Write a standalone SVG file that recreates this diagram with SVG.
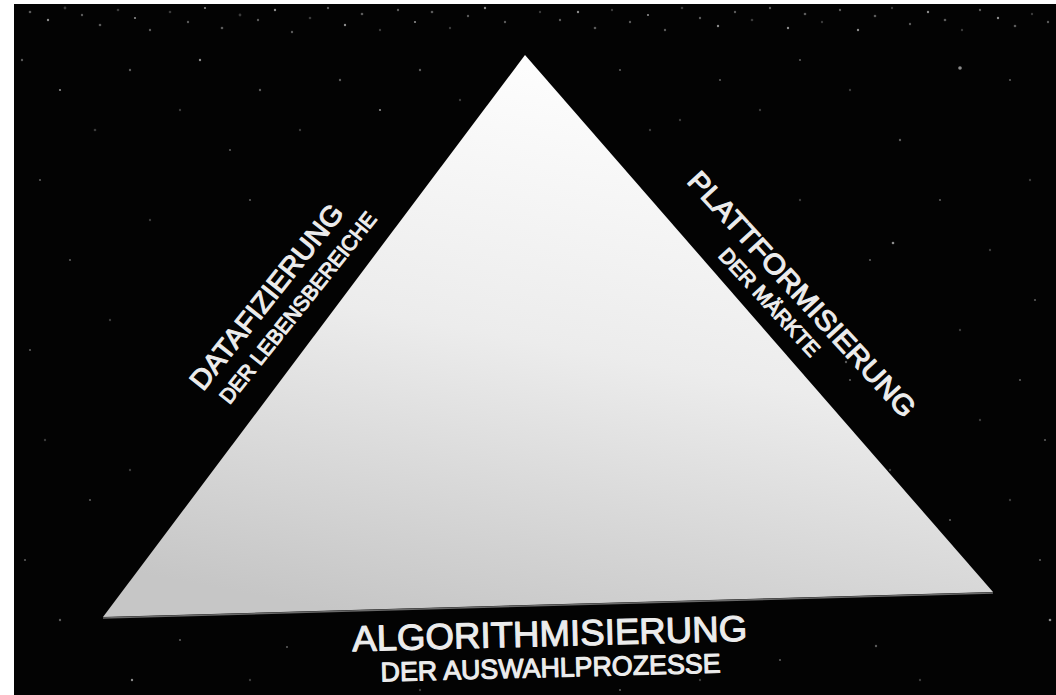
<svg xmlns="http://www.w3.org/2000/svg" width="1056" height="695" viewBox="0 0 1056 695">
<defs>
<linearGradient id="tri" x1="0.6" y1="0" x2="0.3" y2="1">
<stop offset="0" stop-color="#ffffff"/>
<stop offset="0.5" stop-color="#ececec"/>
<stop offset="1" stop-color="#c6c6c6"/>
</linearGradient>
<style>
.a{fill:#5a5a5a}
.b{fill:#8c8c8c}
.c{fill:#3a3a3a}
.t{font-family:"Liberation Sans",Arial,sans-serif;fill:#ececec;stroke:#ececec;stroke-width:1.1;stroke-linejoin:round}
</style>
</defs>
<rect x="0" y="0" width="1056" height="695" fill="#ffffff"/>
<rect x="14" y="4" width="1042" height="691" fill="#030303"/>
<g id="stars">
<circle class="a" cx="30" cy="12" r="1.3"/><circle class="b" cx="48" cy="20" r="1.2"/><circle class="c" cx="65" cy="8" r="1.4"/><circle class="a" cx="82" cy="15" r="1.2"/><circle class="a" cx="100" cy="25" r="1.3"/><circle class="c" cx="118" cy="10" r="1.3"/><circle class="b" cx="135" cy="18" r="1.1"/><circle class="a" cx="150" cy="30" r="1.2"/><circle class="c" cx="170" cy="12" r="1.3"/><circle class="a" cx="188" cy="22" r="1.2"/><circle class="b" cx="205" cy="8" r="1.1"/><circle class="a" cx="222" cy="28" r="1.3"/><circle class="c" cx="240" cy="15" r="1.4"/><circle class="a" cx="258" cy="20" r="1.2"/><circle class="b" cx="275" cy="10" r="1.2"/><circle class="a" cx="292" cy="32" r="1.2"/><circle class="c" cx="310" cy="18" r="1.3"/><circle class="a" cx="328" cy="8" r="1.2"/><circle class="b" cx="345" cy="25" r="1.2"/><circle class="a" cx="362" cy="14" r="1.3"/><circle class="c" cx="380" cy="30" r="1.2"/><circle class="a" cx="398" cy="10" r="1.2"/><circle class="b" cx="415" cy="22" r="1.1"/><circle class="a" cx="432" cy="12" r="1.3"/><circle class="c" cx="450" cy="28" r="1.2"/><circle class="a" cx="468" cy="16" r="1.2"/><circle class="b" cx="485" cy="8" r="1.2"/><circle class="a" cx="505" cy="22" r="1.2"/><circle class="c" cx="540" cy="12" r="1.2"/><circle class="a" cx="560" cy="20" r="1.2"/><circle class="b" cx="578" cy="12" r="1.2"/><circle class="a" cx="595" cy="28" r="1.3"/><circle class="c" cx="612" cy="10" r="1.2"/><circle class="a" cx="630" cy="22" r="1.2"/><circle class="b" cx="648" cy="15" r="1.1"/><circle class="a" cx="665" cy="30" r="1.2"/><circle class="c" cx="682" cy="8" r="1.3"/><circle class="a" cx="700" cy="18" r="1.2"/><circle class="b" cx="718" cy="26" r="1.2"/><circle class="a" cx="735" cy="12" r="1.2"/><circle class="c" cx="752" cy="20" r="1.3"/><circle class="a" cx="770" cy="8" r="1.2"/><circle class="b" cx="788" cy="28" r="1.2"/><circle class="a" cx="805" cy="14" r="1.3"/><circle class="c" cx="822" cy="22" r="1.2"/><circle class="a" cx="840" cy="10" r="1.2"/><circle class="b" cx="858" cy="30" r="1.2"/><circle class="a" cx="875" cy="16" r="1.3"/><circle class="c" cx="892" cy="8" r="1.2"/><circle class="a" cx="910" cy="24" r="1.2"/><circle class="b" cx="928" cy="12" r="1.2"/><circle class="a" cx="945" cy="20" r="1.3"/><circle class="c" cx="962" cy="30" r="1.2"/><circle class="a" cx="980" cy="10" r="1.2"/><circle class="b" cx="998" cy="18" r="1.2"/><circle class="a" cx="1015" cy="26" r="1.3"/><circle class="c" cx="1032" cy="14" r="1.2"/><circle class="a" cx="1048" cy="22" r="1.2"/>
<circle class="a" cx="22" cy="60" r="1.2"/><circle class="b" cx="60" cy="90" r="1.1"/><circle class="c" cx="95" cy="130" r="1.3"/><circle class="a" cx="40" cy="180" r="1.1"/><circle class="a" cx="130" cy="70" r="1.2"/><circle class="c" cx="180" cy="110" r="1.2"/><circle class="a" cx="230" cy="150" r="1.1"/><circle class="c" cx="150" cy="220" r="1.2"/><circle class="a" cx="70" cy="260" r="1.1"/><circle class="c" cx="110" cy="320" r="1.2"/><circle class="a" cx="30" cy="350" r="1.1"/><circle class="b" cx="200" cy="60" r="1.2"/><circle class="a" cx="260" cy="90" r="1.2"/><circle class="c" cx="300" cy="130" r="1.2"/><circle class="a" cx="340" cy="80" r="1.2"/><circle class="b" cx="380" cy="110" r="1.1"/><circle class="a" cx="420" cy="70" r="1.2"/><circle class="c" cx="460" cy="100" r="1.2"/><circle class="a" cx="250" cy="200" r="1.1"/><circle class="c" cx="45" cy="440" r="1.2"/><circle class="a" cx="90" cy="500" r="1.1"/><circle class="c" cx="130" cy="470" r="1.2"/><circle class="a" cx="25" cy="560" r="1.1"/><circle class="a" cx="60" cy="620" r="1.2"/><circle class="b" cx="132" cy="680" r="1.2"/><circle class="a" cx="180" cy="640" r="1.1"/><circle class="c" cx="250" cy="680" r="1.2"/><circle class="a" cx="287" cy="647" r="1.1"/><circle class="c" cx="420" cy="690" r="1.2"/><circle class="a" cx="620" cy="690" r="1.1"/><circle class="c" cx="700" cy="680" r="1.2"/><circle class="a" cx="780" cy="660" r="1.1"/><circle class="a" cx="876" cy="646" r="1.2"/><circle class="c" cx="920" cy="680" r="1.2"/><circle class="b" cx="1050" cy="620" r="1.3"/><circle class="a" cx="1040" cy="560" r="1.1"/><circle class="c" cx="1010" cy="500" r="1.2"/><circle class="a" cx="1045" cy="440" r="1.1"/><circle class="c" cx="980" cy="420" r="1.2"/><circle class="a" cx="1020" cy="380" r="1.1"/><circle class="c" cx="960" cy="330" r="1.2"/><circle class="a" cx="1035" cy="300" r="1.1"/><circle class="c" cx="990" cy="250" r="1.2"/><circle class="a" cx="940" cy="200" r="1.1"/><circle class="c" cx="1030" cy="180" r="1.2"/><circle class="a" cx="900" cy="140" r="1.2"/><circle class="b" cx="960" cy="68" r="1.8"/><circle class="a" cx="1010" cy="80" r="1.1"/><circle class="c" cx="850" cy="90" r="1.2"/><circle class="a" cx="800" cy="60" r="1.1"/><circle class="c" cx="760" cy="110" r="1.2"/><circle class="a" cx="720" cy="80" r="1.1"/><circle class="c" cx="680" cy="120" r="1.2"/><circle class="a" cx="620" cy="70" r="1.1"/><circle class="c" cx="650" cy="130" r="1.2"/><circle class="a" cx="870" cy="260" r="1.1"/><circle class="b" cx="893" cy="243" r="1.3"/><circle class="a" cx="850" cy="380" r="1.1"/><circle class="c" cx="890" cy="470" r="1.2"/><circle class="a" cx="950" cy="520" r="1.1"/><circle class="c" cx="800" cy="200" r="1.2"/><circle class="a" cx="846" cy="362" r="1.2"/>
</g>
<g id="triangle">
<polygon points="525,55 103,617 993,592" fill="url(#tri)"/>
<line x1="103" y1="618" x2="993" y2="593" stroke="#6a6a6a" stroke-width="1.5"/>
</g>
<g id="datafizierung" transform="translate(203,392) rotate(-51.5)">
<text class="t" x="0" y="0" font-size="28" textLength="228" lengthAdjust="spacingAndGlyphs">DATAFIZIERUNG</text>
<text class="t" x="6" y="29" font-size="21" textLength="238" lengthAdjust="spacingAndGlyphs">DER LEBENSBEREICHE</text>
</g>
<g id="plattformisierung" transform="translate(686,182) rotate(47.5)">
<text class="t" x="0" y="0" font-size="28" textLength="322" lengthAdjust="spacingAndGlyphs">PLATTFORMISIERUNG</text>
<text class="t" x="76" y="27" font-size="21" textLength="138" lengthAdjust="spacingAndGlyphs">DER MÄRKTE</text>
</g>
<g id="algorithmisierung" transform="rotate(-1.5 550 646)">
<text class="t" x="550" y="646" font-size="36" text-anchor="middle" textLength="395" lengthAdjust="spacingAndGlyphs">ALGORITHMISIERUNG</text>
<text class="t" x="550" y="677" font-size="27" text-anchor="middle" textLength="340" lengthAdjust="spacingAndGlyphs">DER AUSWAHLPROZESSE</text>
</g>
</svg>
